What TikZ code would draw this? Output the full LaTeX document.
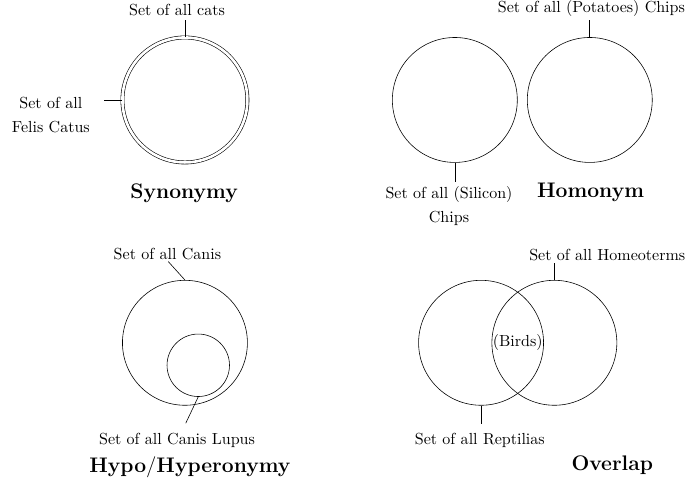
\documentclass[tikz,border=0pt]{standalone}
\usepackage{tikz}
\usetikzlibrary{calc}

\tikzset{
  insieme/.style={draw, circle, minimum size=3cm, inner sep=0pt},
  etichetta/.style={font=\fontsize{10.95}{16}\selectfont, align=center, inner sep=1pt},
  titolo/.style={font=\Large\bfseries},
}

\begin{document}
\begin{tikzpicture}[scale=1]
\useasboundingbox (-4.44,-9.32) rectangle (12.03,2.40);

% --- Sinonimia (in alto a sinistra) ---
\node[insieme, double, double distance=1.8pt] (syn) at (0,0) {};
\node[etichetta] (cats) at (-0.19,2.16) {Set of all cats};
\node[etichetta] (felis) at (-3.22,-0.36) {Set of all\\Felis Catus};
\coordinate (cats-end) at (0,1.92);
\coordinate (felis-end) at (-1.94,0);
\draw (syn.north) -- (cats-end);
\draw (syn.west) -- (felis-end);
\node[titolo] (syn-t) at (-0.02,-2.25) {Synonymy};

% --- Omonimia (in alto a destra) ---
\node[insieme] (silicon) at (6.48,0) {};
\node[insieme] (potato) at (9.72,0) {};
\node[etichetta] (potato-l) at (9.76,2.20) {Set of all (Potatoes) Chips};
\node[etichetta] (silicon-l) at (6.34,-2.55) {Set of all (Silicon)\\Chips};
\coordinate (potato-end) at (9.72,1.92);
\coordinate (silicon-end) at (6.48,-1.96);
\draw (potato.north) -- (potato-end);
\draw (silicon.south) -- (silicon-end);
\node[titolo] (hom-t) at (9.74,-2.23) {Homonym};

% --- Iponimia (in basso a sinistra) ---
\node[insieme] (canis) at (0,-5.83) {};
\node[insieme, minimum size=1.5cm] (lupus) at (0.32,-6.37) {};
\node[etichetta] (canis-l) at (-0.42,-3.70) {Set of all Canis};
\node[etichetta] (lupus-l) at (-0.19,-8.18) {Set of all Canis Lupus};
\coordinate (canis-end) at (-0.40,-3.88);
\coordinate (lupus-end) at (0.02,-7.76);
\draw (canis.north) -- (canis-end);
\draw (lupus.south) -- (lupus-end);
\node[titolo] (hyp-t) at (0.12,-8.81) {Hypo$/$Hyperonymy};

% --- Sovrapposizione (in basso a destra) ---
\node[insieme] (rept) at (7.11,-5.83) {};
\node[insieme] (homeo) at (8.87,-5.83) {};
\node[etichetta] (birds) at ($(rept)!0.5!(homeo)$) {(Birds)};
\node[etichetta] (homeo-l) at (10.14,-3.72) {Set of all Homeoterms};
\node[etichetta] (rept-l) at (7.08,-8.18) {Set of all Reptilias};
\coordinate (homeo-end) at (8.87,-3.91);
\coordinate (rept-end) at (7.11,-7.78);
\draw (homeo.north) -- (homeo-end);
\draw (rept.south) -- (rept-end);
\node[titolo] (ovl-t) at (10.26,-8.77) {Overlap};

\end{tikzpicture}
\end{document}
